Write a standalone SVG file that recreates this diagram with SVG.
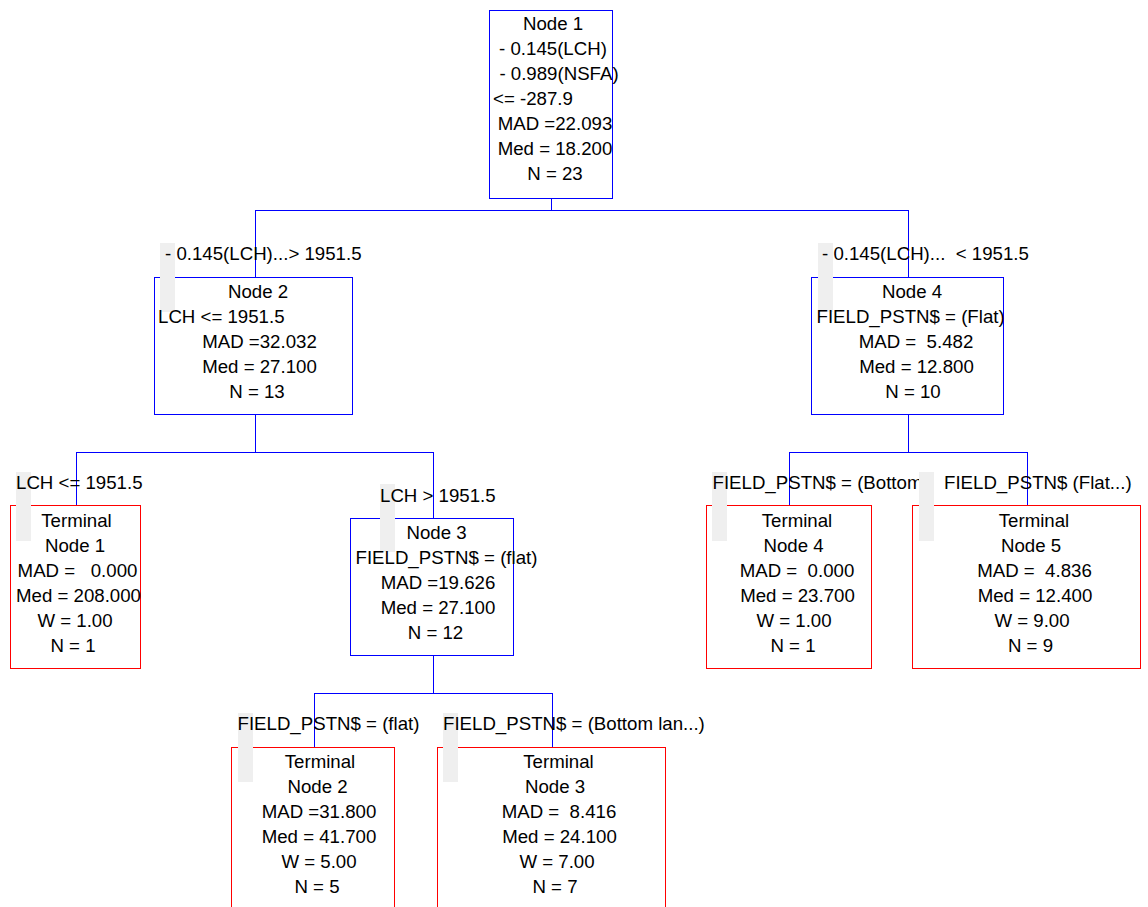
<svg xmlns="http://www.w3.org/2000/svg" width="1148" height="907" viewBox="0 0 1148 907">
<style>
.bg{fill:#ffffff}
.split{fill:#ffffff;stroke:#0000ff;stroke-width:1}
.term{fill:#ffffff;stroke:#ff0000;stroke-width:1}
.conn{stroke:#0000ff;stroke-width:1;fill:none}
.tab{fill:#efefef}
text{font-family:"Liberation Sans",Arial,sans-serif;font-size:18.67px;fill:#000000;white-space:pre}
.m{text-anchor:middle}
</style>
<rect class="bg" x="0" y="0" width="1148" height="907"/>
<g id="connectors">
<path class="conn" d="M551.5,198 V210.5 M255.5,210.5 H908.5 M255.5,210 V277 M908.5,210 V277"/>
<path class="conn" d="M255.5,414 V452.5 M76.5,452.5 H433.5 M76.5,452 V505 M433.5,452 V518"/>
<path class="conn" d="M908.5,414 V452.5 M789.5,452.5 H1027.5 M789.5,452 V505 M1027.5,452 V505"/>
<path class="conn" d="M433.5,655 V693.5 M314.5,693.5 H552.5 M314.5,693 V747 M552.5,693 V747"/>
</g>
<g id="node1">
<rect class="split" x="489.5" y="10.5" width="123" height="188"/>
<text class="m" x="553" y="30">Node 1</text>
<text class="m" x="553" y="55">- 0.145(LCH)</text>
<text class="m" x="559" y="80">- 0.989(NSFA)</text>
<text x="493" y="105">&lt;= -287.9</text>
<text class="m" x="555" y="130">MAD =22.093</text>
<text class="m" x="555" y="155">Med = 18.200</text>
<text class="m" x="555" y="180">N = 23</text>
</g>
<g id="node2">
<rect class="split" x="154.5" y="277.5" width="198" height="137"/>
<rect class="tab" x="160" y="243" width="15" height="69"/>
<text x="165" y="260">- 0.145(LCH)...&gt; 1951.5</text>
<text class="m" x="258" y="298">Node 2</text>
<text x="158" y="323">LCH &lt;= 1951.5</text>
<text class="m" x="259.5" y="348">MAD =32.032</text>
<text class="m" x="259.5" y="373">Med = 27.100</text>
<text class="m" x="257" y="398">N = 13</text>
</g>
<g id="node4">
<rect class="split" x="811.5" y="277.5" width="192" height="137"/>
<rect class="tab" x="818" y="243" width="15" height="69"/>
<text x="822" y="260">- 0.145(LCH)...  &lt; 1951.5</text>
<text class="m" x="912" y="298">Node 4</text>
<text x="816.5" y="323">FIELD_PSTN$ = (Flat)</text>
<text class="m" x="916" y="348">MAD =  5.482</text>
<text class="m" x="916.5" y="373">Med = 12.800</text>
<text class="m" x="913" y="398">N = 10</text>
</g>
<g id="terminal1">
<rect class="term" x="10.5" y="505.5" width="130" height="163"/>
<rect class="tab" x="16" y="472" width="15" height="69"/>
<text x="16" y="489">LCH &lt;= 1951.5</text>
<text class="m" x="76.5" y="527">Terminal</text>
<text class="m" x="75" y="552">Node 1</text>
<text class="m" x="77.5" y="577">MAD =   0.000</text>
<text class="m" x="78.5" y="602">Med = 208.000</text>
<text class="m" x="75" y="627">W = 1.00</text>
<text class="m" x="73" y="652">N = 1</text>
</g>
<g id="node3">
<rect class="split" x="350.5" y="518.5" width="163" height="137"/>
<rect class="tab" x="380" y="484" width="15" height="68"/>
<text x="380" y="501.5">LCH &gt; 1951.5</text>
<text class="m" x="436.5" y="539">Node 3</text>
<text x="355.5" y="564">FIELD_PSTN$ = (flat)</text>
<text class="m" x="438" y="589">MAD =19.626</text>
<text class="m" x="438" y="614">Med = 27.100</text>
<text class="m" x="435.5" y="639">N = 12</text>
</g>
<g id="terminal4">
<rect class="term" x="706.5" y="505.5" width="165" height="163"/>
<rect class="tab" x="712" y="472" width="15" height="69"/>
<text x="712.5" y="489">FIELD_PSTN$ = (Bottom</text>
<text class="m" x="797" y="527">Terminal</text>
<text class="m" x="793.5" y="552">Node 4</text>
<text class="m" x="797" y="577">MAD =  0.000</text>
<text class="m" x="797.5" y="602">Med = 23.700</text>
<text class="m" x="794" y="627">W = 1.00</text>
<text class="m" x="793" y="652">N = 1</text>
</g>
<g id="terminal5">
<rect class="term" x="912.5" y="505.5" width="228" height="163"/>
<rect class="tab" x="919" y="472" width="15" height="69"/>
<text x="944" y="489">FIELD_PSTN$ (Flat...)</text>
<text class="m" x="1034" y="527">Terminal</text>
<text class="m" x="1031" y="552">Node 5</text>
<text class="m" x="1034.5" y="577">MAD =  4.836</text>
<text class="m" x="1035" y="602">Med = 12.400</text>
<text class="m" x="1032" y="627">W = 9.00</text>
<text class="m" x="1030.5" y="652">N = 9</text>
</g>
<g id="terminal2">
<rect class="term" x="231.5" y="747.5" width="163" height="200"/>
<rect class="tab" x="238" y="713" width="15" height="69"/>
<text x="237.5" y="730">FIELD_PSTN$ = (flat)</text>
<text class="m" x="320" y="768">Terminal</text>
<text class="m" x="317.5" y="793">Node 2</text>
<text class="m" x="319" y="818">MAD =31.800</text>
<text class="m" x="319" y="843">Med = 41.700</text>
<text class="m" x="319" y="868">W = 5.00</text>
<text class="m" x="317" y="893">N = 5</text>
</g>
<g id="terminal3">
<rect class="term" x="437.5" y="747.5" width="228" height="200"/>
<rect class="tab" x="443" y="713" width="15" height="69"/>
<text x="443" y="730">FIELD_PSTN$ = (Bottom lan...)</text>
<text class="m" x="558.5" y="768">Terminal</text>
<text class="m" x="555" y="793">Node 3</text>
<text class="m" x="559" y="818">MAD =  8.416</text>
<text class="m" x="559.5" y="843">Med = 24.100</text>
<text class="m" x="557" y="868">W = 7.00</text>
<text class="m" x="555" y="893">N = 7</text>
</g>
</svg>
